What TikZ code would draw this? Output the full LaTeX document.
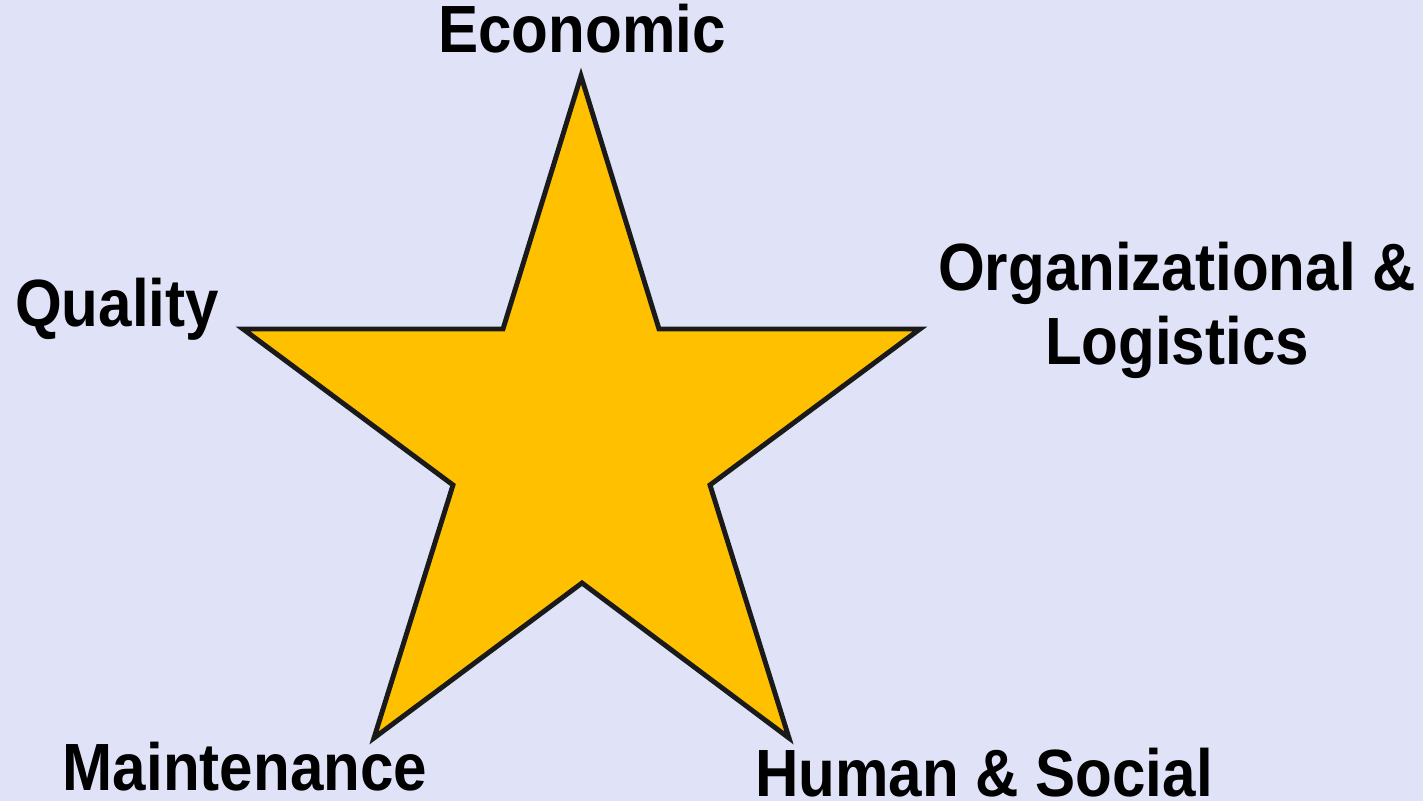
\documentclass[tikz,border=0pt]{standalone}
\definecolor{BackColor}{RGB}{224,227,247}
\definecolor{StarColor}{RGB}{255,192,0}
\definecolor{EdgeColor}{RGB}{26,26,26}
\usepackage{fontspec}
\setmainfont{Liberation Sans}[FakeStretch=0.90]
\usepackage{tikz}
\usetikzlibrary{positioning, calc}

\tikzset{
  dimlabel/.style={font=\bfseries\fontsize{19pt}{21.3pt}\selectfont, inner sep=0pt, text=black, align=center},
}

\begin{document}
\begin{tikzpicture}[x=0.01cm, y=-0.01cm]
          \fill[BackColor] (0,0) rectangle (1423,801);
          \useasboundingbox (0,0) rectangle (1423,801);
          % star
          \draw[fill=StarColor, draw=EdgeColor, line width=1.4pt, line join=miter]
            (581,76) -- (659,329) -- (920,329) -- (710,485) -- (789,738)
            -- (582,583) -- (374,738) -- (453,485) -- (243,329) -- (503,329) -- cycle;
          % labels
          \node[dimlabel, anchor=base] (economic) at (582,53) {Economic};
          \node[dimlabel, anchor=base] (quality) at (117,327) {Quality};
          \node[dimlabel, anchor=base] (orglog) at (1177,365) {Organizational \&\\Logistics};
          \node[dimlabel, anchor=base] (maint) at (245,791) {Maintenance};
          \node[dimlabel, anchor=base] (humsoc) at (984,797) {Human \& Social};
        \end{tikzpicture}
\end{document}
